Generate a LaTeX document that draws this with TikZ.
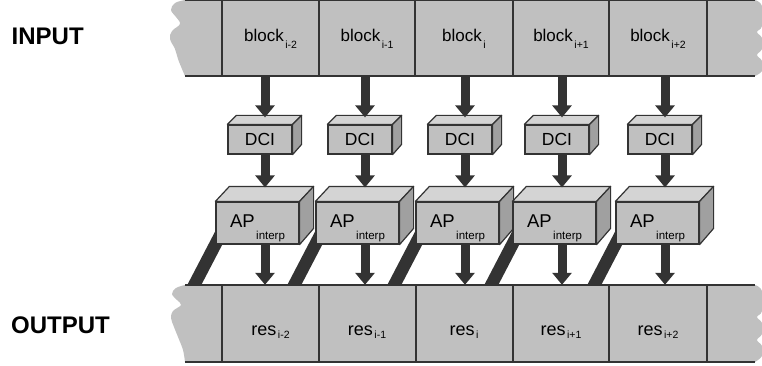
\documentclass[tikz,border=0pt]{standalone}
\usepackage{fontspec}
\setmainfont{Liberation Sans}
\usetikzlibrary{arrows.meta,calc}
\definecolor{face}{HTML}{C0C0C0}
\definecolor{facetop}{HTML}{D4D4D4}
\definecolor{faceside}{HTML}{A0A0A0}
\definecolor{ink}{HTML}{333333}
\definecolor{edgecol}{HTML}{333333}
\newcommand\subtxt[3]{\kern1.5pt\raisebox{-#1}{\fontsize{#2}{#2}\selectfont #3}}
\begin{document}
\begin{tikzpicture}[x=1pt,y=-1pt,
  bandline/.style={draw=edgecol,line width=1.5pt},
  cell/.style={draw=none,inner sep=0pt},
  arr/.style={draw=ink,line width=9pt,-{Triangle[length=12pt,width=19pt]}},
  boxface/.style={fill=face,draw=edgecol,line width=1.2pt,inner sep=0pt},
  dcibox/.style={boxface,minimum width=64pt,minimum height=29pt,font=\fontsize{17.5}{17.5}\selectfont},
  apbox/.style={boxface,minimum width=83pt,minimum height=42pt},
  topface/.style={fill=facetop,draw=edgecol,line width=1.2pt,line join=round},
  sideface/.style={fill=faceside,draw=edgecol,line width=1.2pt,line join=round},
  txt/.style={inner sep=0pt,anchor=base},
  big/.style={inner sep=0pt,anchor=base west,font=\fontsize{24}{24}\selectfont\bfseries},
]
\useasboundingbox (0,0) rectangle (762,366);

% ---- input band
\fill[face] plot[smooth,tension=0.6] coordinates {(185,0) (175,3) (171,10) (176,17) (180,24) (172,31) (170,39) (175,49) (178,59) (182,69) (185,76)}
  -- plot[smooth,tension=0.6] coordinates {(755,76) (762,71) (762,61) (757,55) (762,49) (762,38) (757,32) (762,26) (762,6) (755,0)} -- cycle;
\draw[bandline] (185,0.75) -- (755,0.75) (185,76) -- (755,76);
\foreach \x in {222,319,415,513,609,707} \draw[bandline] (\x,0) -- (\x,76);

% ---- output band
\fill[face] plot[smooth,tension=0.6] coordinates {(185,285) (176,288) (172,294) (177,300) (181,305) (173,311) (171,318) (174,327) (178,337) (183,350) (185,362)}
  -- plot[smooth,tension=0.6] coordinates {(755,362) (762,356) (762,346) (757,340) (762,334) (762,323) (757,317) (762,311) (762,291) (755,285)} -- cycle;
\draw[bandline] (185,285) -- (755,285) (185,362) -- (755,362);
\foreach \x in {222,319,416,513,609,707} \draw[bandline] (\x,285) -- (\x,362);

% ---- cells and labels
\foreach \i/\xa/\xb/\s in {1/222/319/i-2,2/319/415/i-1,3/415/513/i,4/513/609/i+1,5/609/707/i+2}{
  \pgfmathsetmacro\w{\xb-\xa}
  \node[cell,minimum width=\w pt,minimum height=76pt] (in\i) at ({(\xa+\xb)/2},38) {};
  \node[cell,minimum width=\w pt,minimum height=77pt] (out\i) at ({(\xa+\xb)/2},323.5) {};
  \node[txt,font=\fontsize{17}{17}\selectfont] (lin\i) at ({(\xa+\xb)/2},42) {block\subtxt{7pt}{10.5}{\s}};
  \node[txt,font=\fontsize{18}{18}\selectfont] (lout\i) at ({(\xa+\xb)/2},335) {res\subtxt{3pt}{10.5}{\s}};
}

\node[big] (inlabel) at (11.5,45) {INPUT};
\node[big] (outlabel) at (11,333) {OUTPUT};

% ---- columns
\foreach \i/\c in {1/265,2/365,3/465,4/562,5/665}{
  \coordinate (col\i) at (\c,0);
  \coordinate (sl\i) at (\c-71,285);
  % slanted bars from AP to output
  \fill[ink] ($(sl\i)+(-7,0.5)$) -- ($(sl\i)+(7,0.5)$) -- ($(sl\i)+(38.5,-60)$) -- ($(sl\i)+(24.5,-60)$) -- cycle;
  % AP box
  \node[apbox] (ap\i) at (\c-7.5,223) {};
  \filldraw[topface] (ap\i.north west) -- ++(14,-15) -- ($(ap\i.north east)+(14,-15)$) -- (ap\i.north east) -- cycle;
  \filldraw[sideface] (ap\i.north east) -- ++(14,-15) -- ++(0,42) -- (ap\i.south east) -- cycle;
  \node[txt,font=\fontsize{18.5}{18.5}\selectfont] (lap\i) at (\c-7.5,227) {AP\subtxt{12pt}{11.5}{interp}};
  % DCI box
  \node[dcibox] (dci\i) at (\c-5,139.5) {DCI};
  \filldraw[topface] (dci\i.north west) -- ++(9,-9) -- ($(dci\i.north east)+(9,-9)$) -- (dci\i.north east) -- cycle;
  \filldraw[sideface] (dci\i.north east) -- ++(9,-9) -- ++(0,29) -- (dci\i.south east) -- cycle;
  % arrows
  \draw[arr,shorten >=7pt] (in\i.south -| col\i) -- (dci\i.north -| col\i);
  \draw[arr,shorten >=14pt] (dci\i.south -| col\i) -- (ap\i.north -| col\i);
  \draw[arr] (ap\i.south -| col\i) -- (out\i.north -| col\i);
}
\end{tikzpicture}
\end{document}
